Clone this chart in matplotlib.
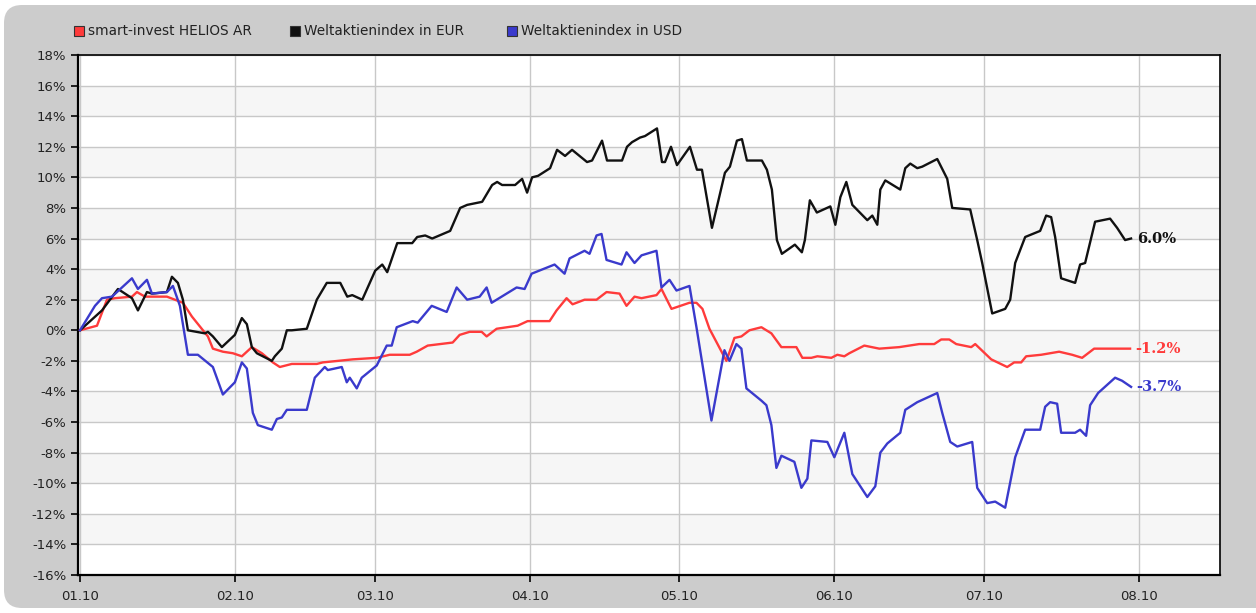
import datetime as dt
import matplotlib
matplotlib.use("Agg")
import matplotlib.pyplot as plt
import matplotlib.dates as mdates
from matplotlib.patches import FancyBboxPatch, Rectangle
from matplotlib.transforms import IdentityTransform

plt.rcParams['axes.unicode_minus'] = False

# days after 01.01.2010, performance in %
helios_days = [0, 3.4, 5.4, 7.0, 10.4, 11.4, 13.0, 17.4, 19.0, 20.6, 22.4, 25.6, 26.6, 28.6,
               30.6, 32.4, 34.4, 36.4, 38.6, 40.0, 42.4, 47.4, 48.6, 54.6, 59.4, 62.0, 66.0,
               67.4, 69.6, 74.6, 76.0, 78.0, 80.4, 81.4, 83.4, 87.6, 89.6, 94.0, 95.4, 97.4,
               98.6, 101.0, 103.4, 105.4, 108.0, 109.4, 111.0, 112.4, 115.4, 116.4, 118.4,
               122.0, 123.4, 124.6, 126.0, 129.4, 131.0, 132.4, 134.0, 136.4, 138.4, 140.4,
               143.4, 144.6, 146.4, 147.6, 150.4, 151.6, 153.0, 154.0, 157.0, 160.0, 164.0,
               168.0, 171.0, 172.4, 174.0, 175.4, 178.4, 179.2, 182.4, 185.6, 187.0, 188.4,
               189.4, 192.4, 196.0, 198.6, 200.6, 203.0, 206.0, 209.0, 210.2]
helios_vals = [0, 0.3, 2.0, 2.1, 2.2, 2.5, 2.2, 2.2, 2.0, 1.8, 0.9, -0.4, -1.2, -1.4,
               -1.5, -1.7, -1.1, -1.5, -2.1, -2.4, -2.2, -2.2, -2.1, -1.9, -1.8, -1.6, -1.6,
               -1.4, -1.0, -0.8, -0.3, -0.1, -0.1, -0.4, 0.1, 0.3, 0.6, 0.6, 1.3, 2.1,
               1.7, 2.0, 2.0, 2.5, 2.4, 1.6, 2.2, 2.1, 2.3, 2.7, 1.4,
               1.8, 1.8, 1.4, 0.1, -2.0, -0.5, -0.4, 0.0, 0.2, -0.2, -1.1,
               -1.1, -1.8, -1.8, -1.7, -1.8, -1.6, -1.7, -1.5, -1.0, -1.2, -1.1,
               -0.9, -0.9, -0.6, -0.6, -0.9, -1.1, -0.9, -1.9, -2.4, -2.1, -2.1,
               -1.7, -1.6, -1.4, -1.6, -1.8, -1.2, -1.2, -1.2, -1.2]

eur_days = [0, 4.4, 7.6, 10.4, 11.6, 13.4, 14.4, 17.4, 18.4, 19.6, 20.6, 21.6, 25.0, 25.6,
            26.6, 28.4, 31.0, 32.4, 33.4, 34.4, 35.4, 38.4, 39.0, 40.4, 41.4, 42.4, 45.4,
            47.4, 49.4, 52.1, 53.5, 54.5, 56.5, 59.1, 60.5, 61.5, 63.5, 66.5, 67.5, 69.1,
            70.5, 74.1, 76.1, 77.5, 80.5, 82.5, 83.5, 84.5, 87.1, 88.5, 89.5, 90.5, 91.7,
            94.1, 95.5, 97.1, 98.5, 101.5, 102.5, 104.5, 105.5, 108.5, 109.5, 110.5, 112.1,
            113.1, 115.5, 116.5, 117.1, 118.3, 119.5, 122.1, 123.5, 124.5, 126.5, 129.1,
            130.1, 131.5, 132.5, 133.5, 136.5, 137.5, 138.5, 139.5, 140.5, 143.1, 144.5,
            145.1, 146.1, 147.5, 150.2, 151.2, 152.2, 153.4, 154.6, 157.6, 158.6, 159.6,
            160.2, 161.2, 164.2, 165.2, 166.2, 167.6, 168.6, 171.6, 173.6, 174.6, 178.2,
            179.6, 180.6, 182.6, 185.2, 186.2, 187.2, 189.2, 192.2, 193.4, 194.4, 195.2,
            196.4, 199.2, 200.2, 201.2, 203.2, 206.2, 207.6, 209.2, 210.4]
eur_vals = [0, 1.3, 2.7, 2.1, 1.3, 2.5, 2.4, 2.5, 3.5, 3.1, 2.0, 0.0, -0.2, -0.1,
            -0.4, -1.1, -0.3, 0.8, 0.4, -1.1, -1.5, -2.0, -1.7, -1.2, 0.0, 0.0, 0.1,
            2.0, 3.1, 3.1, 2.2, 2.3, 2.0, 3.9, 4.3, 3.8, 5.7, 5.7, 6.1, 6.2,
            6.0, 6.5, 8.0, 8.2, 8.4, 9.5, 9.7, 9.5, 9.5, 9.9, 9.0, 10.0, 10.1,
            10.6, 11.8, 11.4, 11.8, 11.0, 11.1, 12.4, 11.1, 11.1, 12.0, 12.3, 12.6,
            12.7, 13.2, 11.0, 11.0, 12.0, 10.8, 12.0, 10.5, 10.5, 6.7, 10.3,
            10.7, 12.4, 12.5, 11.1, 11.1, 10.5, 9.2, 5.9, 5.0, 5.6, 5.1,
            5.9, 8.5, 7.7, 8.1, 6.9, 8.7, 9.7, 8.2, 7.2, 7.5, 6.9,
            9.2, 9.8, 9.2, 10.6, 10.9, 10.6, 10.7, 11.2, 9.9, 8.0, 7.9,
            5.9, 4.4, 1.1, 1.4, 2.0, 4.4, 6.1, 6.5, 7.5, 7.4, 6.1,
            3.4, 3.1, 4.3, 4.4, 7.1, 7.3, 6.7, 5.9, 6.0]

usd_days = [0, 3.0, 4.4, 6.4, 10.4, 11.6, 13.4, 14.4, 17.4, 18.6, 20.0, 21.6, 23.6, 26.6,
            28.6, 31.0, 32.4, 33.4, 34.6, 35.6, 38.4, 39.4, 40.4, 41.4, 45.4, 47.0, 49.0,
            49.6, 52.4, 53.4, 54.0, 55.4, 56.4, 59.4, 61.4, 62.4, 63.4, 66.6, 67.6, 70.4,
            73.4, 75.4, 77.5, 80.0, 81.4, 82.4, 87.4, 89.0, 90.4, 95.0, 97.0, 98.0, 101.0,
            102.0, 103.4, 104.4, 105.4, 108.4, 109.4, 111.0, 112.4, 115.4, 116.4, 118.0,
            119.4, 122.0, 123.4, 126.4, 129.0, 130.0, 131.4, 132.4, 133.4, 136.4, 137.4,
            138.4, 139.4, 140.4, 143.0, 144.4, 145.6, 146.4, 149.6, 151.0, 153.0, 154.6,
            157.6, 159.2, 160.2, 161.6, 164.2, 165.2, 167.6, 171.6, 172.6, 174.2, 175.6,
            178.6, 179.6, 181.6, 183.2, 185.2, 187.2, 189.2, 192.2, 193.2, 194.2, 195.6,
            196.4, 199.2, 200.2, 201.4, 202.2, 203.8, 207.2, 208.6, 210.4]
usd_vals = [0, 1.6, 2.1, 2.2, 3.4, 2.7, 3.3, 2.4, 2.5, 2.9, 1.6, -1.6, -1.6, -2.4,
            -4.2, -3.4, -2.1, -2.5, -5.4, -6.2, -6.5, -5.8, -5.7, -5.2, -5.2, -3.1, -2.4,
            -2.6, -2.4, -3.4, -3.1, -3.8, -3.1, -2.3, -1.0, -1.0, 0.2, 0.6, 0.5, 1.6,
            1.2, 2.8, 2.0, 2.2, 2.8, 1.8, 2.8, 2.7, 3.7, 4.3, 3.7, 4.7, 5.2,
            5.0, 6.2, 6.3, 4.6, 4.3, 5.1, 4.4, 4.9, 5.2, 2.8, 3.3,
            2.6, 2.9, 0.2, -5.9, -1.3, -2.0, -0.9, -1.2, -3.8, -4.6, -4.9,
            -6.2, -9.0, -8.2, -8.6, -10.3, -9.7, -7.2, -7.3, -8.3, -6.7, -9.4,
            -10.9, -10.2, -8.0, -7.4, -6.7, -5.2, -4.7, -4.1, -5.4, -7.3, -7.6,
            -7.3, -10.3, -11.3, -11.2, -11.6, -8.3, -6.5, -6.5, -5.0, -4.7, -4.8,
            -6.7, -6.7, -6.5, -6.9, -4.9, -4.1, -3.1, -3.3, -3.7]

series = [
    ("smart-invest HELIOS AR", helios_days, helios_vals, "#ff3b3b"),
    ("Weltaktienindex in EUR", eur_days, eur_vals, "#111111"),
    ("Weltaktienindex in USD", usd_days, usd_vals, "#3a3acc"),
]

start = dt.datetime(2010, 1, 1)
base = mdates.date2num(start)

fig = plt.figure(figsize=(12.56, 6.13), dpi=100, facecolor="white")
# grey rounded frame around the chart
frame = FancyBboxPatch((4, 5), 1290, 603, boxstyle="round,pad=0,rounding_size=18",
                       transform=IdentityTransform(), facecolor="#cccccc",
                       edgecolor="none", zorder=-5)
fig.patches.append(frame)

ax = fig.add_axes([78 / 1256, 1 - 575 / 613, (1220 - 78) / 1256, (575 - 55) / 613])
ax.set_zorder(1)
ax.set_facecolor("white")

# alternating bands
for lo in range(-14, 18, 4):
    ax.axhspan(lo, lo + 2, color="#f6f6f6", zorder=0, lw=0)

for name, days, vals, col in series:
    x = [base + d for d in days]
    ax.plot(x, vals, color=col, lw=1.7, zorder=3, solid_joinstyle="round")
    ax.annotate(f"{vals[-1]:.1f}%", (x[-1], vals[-1]), xytext=(4, 0),
                textcoords="offset points", va="center", ha="left", color=col,
                fontsize=10.5, fontweight="bold", family="DejaVu Serif")

ax.set_ylim(-16, 18)
ax.set_yticks(range(-16, 19, 2))
ax.set_yticklabels([f"{v}%" for v in range(-16, 19, 2)])
ax.set_xlim(base - 0.4, base + 228.2)
ax.xaxis.set_major_locator(mdates.MonthLocator())
ax.xaxis.set_major_formatter(mdates.DateFormatter("%m.%y"))

ax.grid(True, color="#c8c8c8", lw=1.0, zorder=1)
ax.set_axisbelow(True)
ax.tick_params(direction="out", length=5, width=1.2, colors="black",
               labelsize=9.5, labelcolor="#222222")
ax.tick_params(axis="x", pad=6)
for s in ax.spines.values():
    s.set_color("black")
    s.set_linewidth(1.2)
ax.spines["left"].set_linewidth(1.6)
ax.spines["bottom"].set_linewidth(1.6)

# legend on top
leg_x = [74, 290, 507]
for (name, days, vals, col), lx in zip(series, leg_x):
    fig.patches.append(Rectangle((lx, 613 - 36), 10, 10, transform=IdentityTransform(),
                                 facecolor=col, edgecolor="#333333", lw=0.8, zorder=2))
    fig.text((lx + 14) / 1256, 1 - 31 / 613, name, fontsize=9.8, va="center",
             ha="left", color="#222222")

fig.savefig("out.png", dpi=100, facecolor=fig.get_facecolor())
